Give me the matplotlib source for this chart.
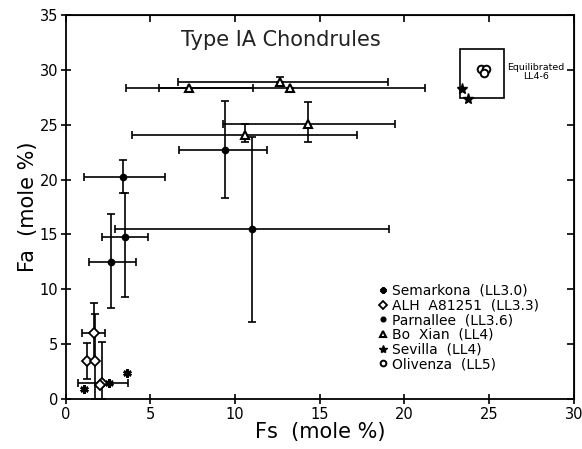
import matplotlib
matplotlib.use("Agg")
import matplotlib.pyplot as plt
from matplotlib.patches import Rectangle
import numpy as np

# each group: x, y, then error bar bounds (lo, hi)
semarkona_x = [1.1, 3.6, 2.55]
semarkona_y = [0.95, 2.4, 1.45]

alh_x = [1.65, 1.26, 1.73, 2.16, 2.0]
alh_y = [6.0, 3.5, 3.5, 1.5, 1.3]
alh_xlo = [0.96, 1.26, 1.73, 0.73, 2.0]
alh_xhi = [2.3, 1.26, 1.73, 3.67, 2.0]
alh_ylo = [3.5, 1.8, 0.0, 0.0, 1.3]
alh_yhi = [8.8, 5.07, 7.75, 5.2, 1.3]

parn_x = [9.4, 11.0, 3.4, 3.5, 2.7]
parn_y = [22.7, 15.5, 20.2, 14.8, 12.5]
parn_xlo = [6.7, 2.9, 1.06, 2.16, 1.37]
parn_xhi = [11.9, 19.1, 5.83, 4.85, 4.12]
parn_ylo = [18.3, 7.0, 18.75, 9.3, 8.3]
parn_yhi = [27.15, 23.9, 21.8, 18.8, 16.9]

boxian_x = [7.27, 12.65, 13.26, 10.6, 14.28]
boxian_y = [28.3, 28.85, 28.35, 24.1, 25.05]
boxian_xlo = [5.5, 6.6, 3.57, 3.9, 9.31]
boxian_xhi = [11.08, 19.0, 21.2, 17.17, 19.45]
boxian_ylo = [28.3, 28.85, 28.35, 23.4, 23.4]
boxian_yhi = [28.3, 29.3, 28.35, 25.1, 27.05]

sevilla_x = [23.4, 23.75]
sevilla_y = [28.25, 27.35]

olivenza_x = [24.5, 24.8, 24.68]
olivenza_y = [30.05, 30.05, 29.7]

equil_box = [23.3, 27.4, 25.87, 31.9]  # x0, y0, x1, y1

x_ticks = [0, 5, 10, 15, 20, 25, 30]
y_ticks = [0, 5, 10, 15, 20, 25, 30, 35]


def errs(v, lo, hi):
    v = np.array(v)
    return [v - np.array(lo), np.array(hi) - v]


fig = plt.figure(figsize=(5.82, 4.49), dpi=100)
ax = fig.add_axes([0.113, 0.111, 0.873, 0.856])

ebkw = dict(ecolor="black", elinewidth=1.2, capsize=3, capthick=1.2, linestyle="none")

ax.errorbar(alh_x, alh_y, xerr=errs(alh_x, alh_xlo, alh_xhi),
            yerr=errs(alh_y, alh_ylo, alh_yhi), **ebkw)
ax.errorbar(parn_x, parn_y, xerr=errs(parn_x, parn_xlo, parn_xhi),
            yerr=errs(parn_y, parn_ylo, parn_yhi), **ebkw)
ax.errorbar(boxian_x, boxian_y, xerr=errs(boxian_x, boxian_xlo, boxian_xhi),
            yerr=errs(boxian_y, boxian_ylo, boxian_yhi), **ebkw)

ax.plot(semarkona_x, semarkona_y, ls="none", marker=(6, 2, 0), ms=6, mew=1.8,
        color="black", label="Semarkona  (LL3.0)", zorder=5)
ax.plot(alh_x, alh_y, ls="none", marker="D", ms=5, mfc="white", mec="black",
        mew=1.3, label="ALH  A81251  (LL3.3)", zorder=5)
ax.plot(parn_x, parn_y, ls="none", marker="o", ms=4.5, color="black",
        label="Parnallee  (LL3.6)", zorder=5)
ax.plot(boxian_x, boxian_y, ls="none", marker="^", ms=6, mfc="white", mec="black",
        mew=1.5, label="Bo  Xian  (LL4)", zorder=5)
ax.plot(sevilla_x, sevilla_y, ls="none", marker="*", ms=8, color="black",
        label="Sevilla  (LL4)", zorder=5)
ax.plot(olivenza_x, olivenza_y, ls="none", marker="o", ms=5.5, mfc="white", mec="black",
        mew=1.4, label="Olivenza  (LL5)", zorder=5)

x0, y0, x1, y1 = equil_box
ax.add_patch(Rectangle((x0, y0), x1 - x0, y1 - y0, fill=False, ec="black", lw=1.2))
ax.text(27.75, 29.8, "Equilibrated\nLL4-6", fontsize=6.8, ha="center", va="center",
        multialignment="center", linespacing=0.95)

ax.text(0.424, 0.935, "Type IA Chondrules", transform=ax.transAxes, fontsize=15,
        ha="center", va="center", color="#222222")

leg = ax.legend(loc="upper left", bbox_to_anchor=(0.617, 0.30), frameon=False,
                fontsize=10, handlelength=0.6, handletextpad=0.3, labelspacing=0.05,
                borderpad=0, borderaxespad=0, markerscale=0.75)

ax.set_xlim(0, 30)
ax.set_ylim(0, 35)
ax.set_xticks(x_ticks)
ax.set_yticks(y_ticks)
ax.tick_params(direction="inout", length=7, width=1.2, labelsize=10.5, pad=2)
for s in ax.spines.values():
    s.set_linewidth(1.3)

top = ax.secondary_xaxis("top")
top.set_xticks(x_ticks)
top.tick_params(direction="in", length=5, width=1.2, labeltop=False)
right = ax.secondary_yaxis("right")
right.set_yticks(y_ticks)
right.tick_params(direction="in", length=5, width=1.2, labelright=False)

ax.set_xlabel("Fs  (mole %)", fontsize=15, labelpad=0)
ax.set_ylabel("Fa  (mole %)", fontsize=15, labelpad=1)

fig.savefig("out.png", dpi=100)
